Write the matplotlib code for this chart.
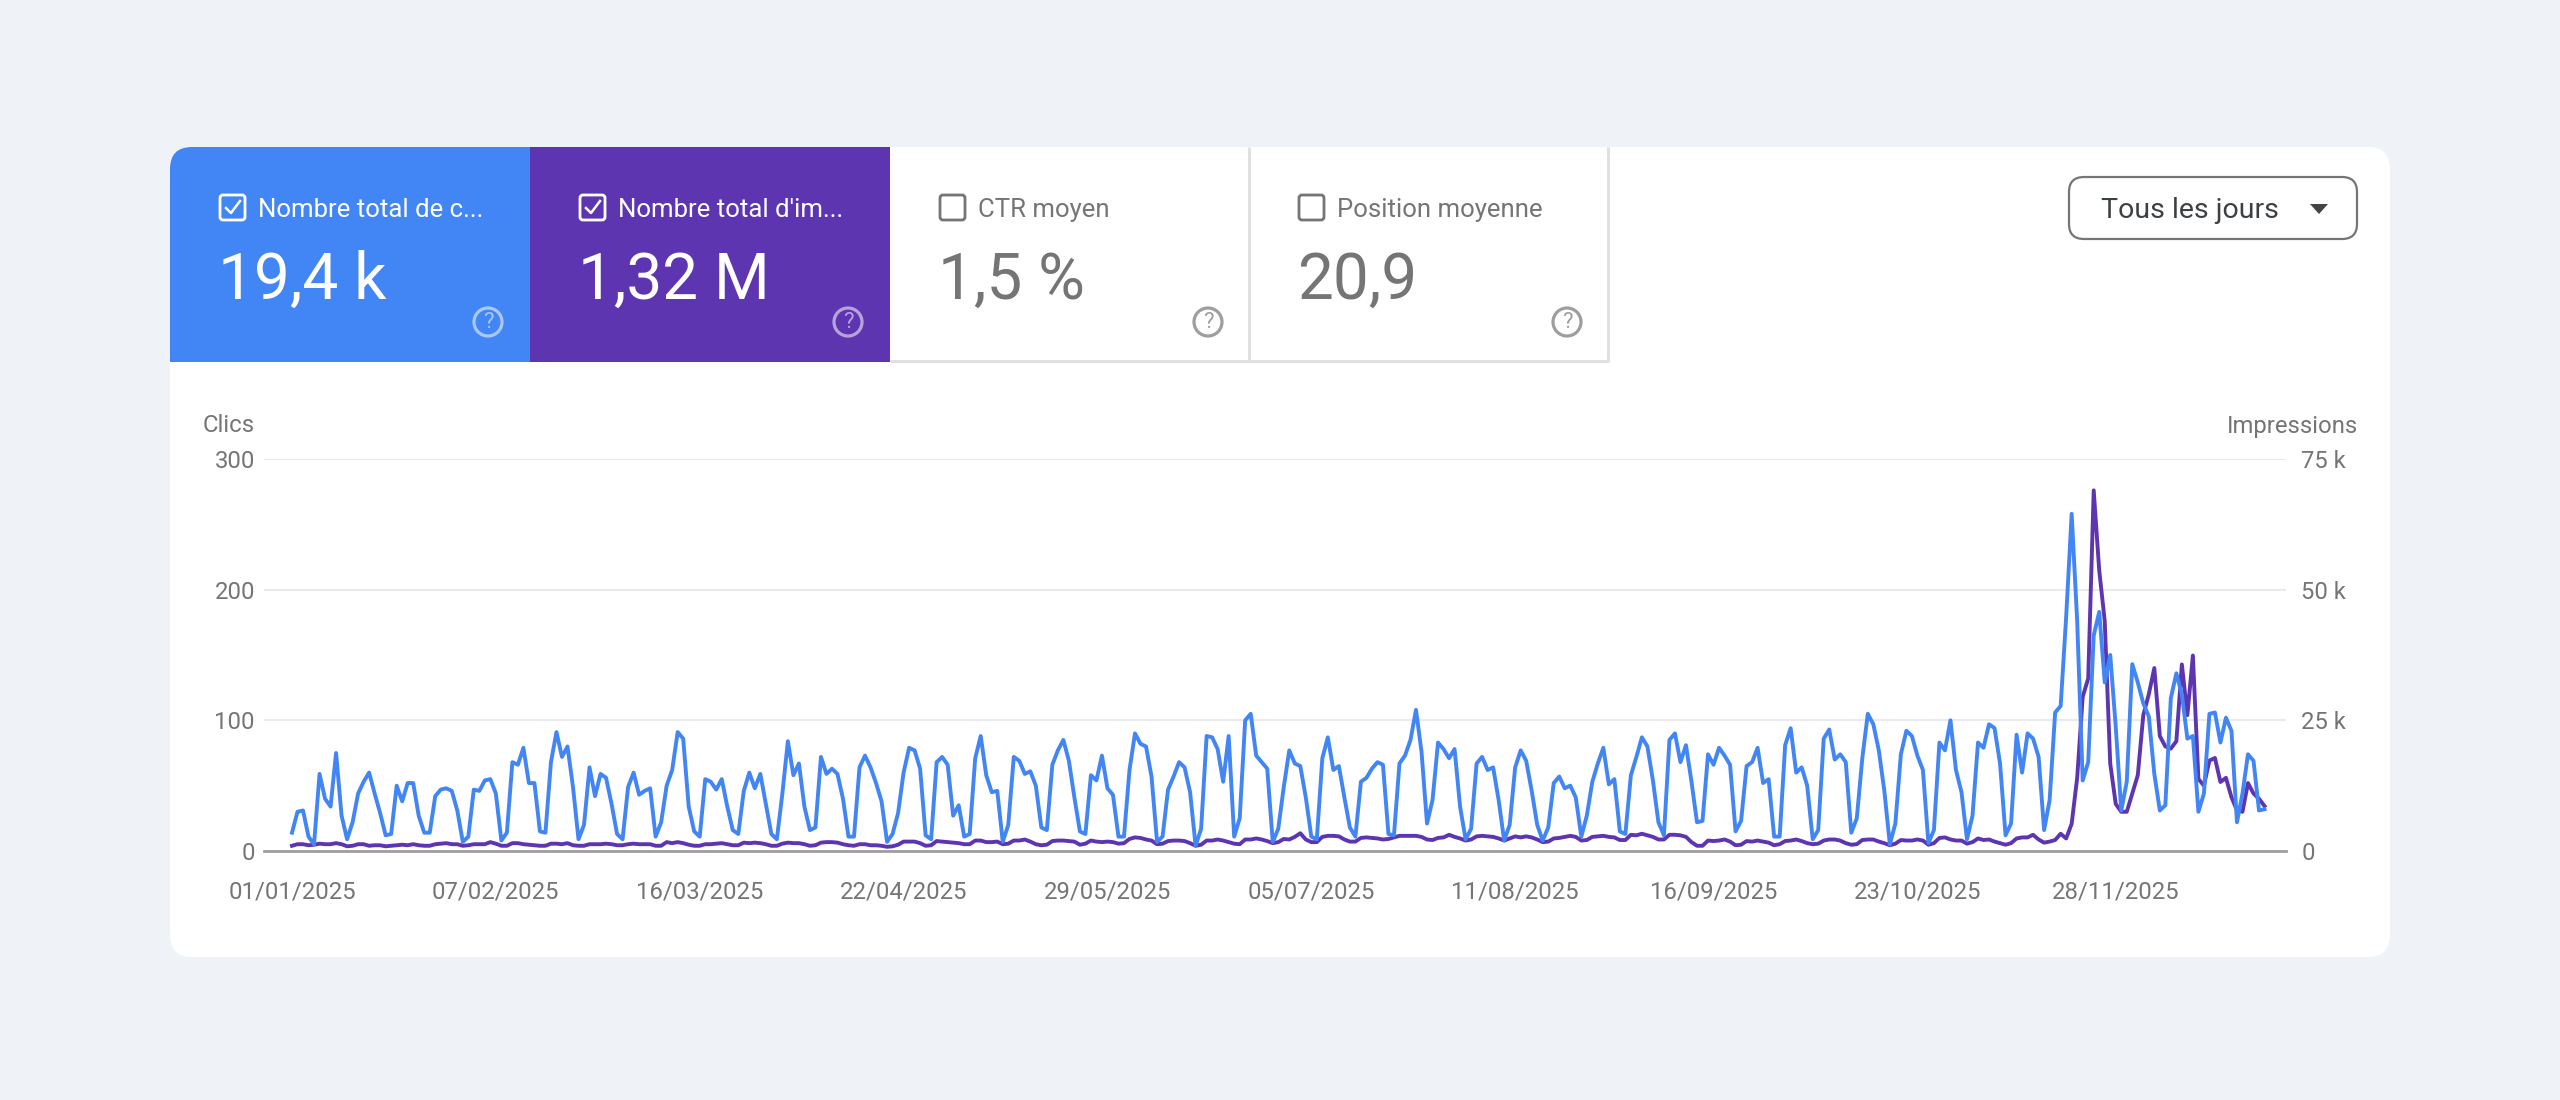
import pandas as pd
import matplotlib
matplotlib.use("Agg")
import matplotlib.pyplot as plt
from matplotlib.patches import FancyBboxPatch, Rectangle, Circle, Polygon

plt.rcParams['font.family'] = ['Roboto', 'DejaVu Sans']

# Daily clicks
clicks = [
    14, 30, 31, 11, 5, 59, 40, 34, 75, 27, 9, 22, 44, 53, 60, 44, 29, 12, 13, 50,
    38, 52, 52, 27, 14, 14, 42, 47, 48, 46, 31, 7, 11, 47, 46, 54, 55, 44, 8, 14,
    68, 66, 79, 52, 52, 15, 14, 68, 91, 72, 80, 49, 9, 20, 64, 42, 59, 56, 36, 13,
    9, 49, 60, 43, 46, 48, 11, 22, 50, 62, 91, 86, 34, 15, 11, 55, 53, 47, 55, 34,
    16, 13, 46, 60, 48, 59, 36, 13, 9, 44, 84, 58, 67, 34,
    16, 18, 72, 59, 63, 59, 40, 11, 11, 64, 73, 64, 52, 38, 7, 13, 29, 60, 79, 77,
    63, 12, 9, 68, 72, 66, 27, 35, 11, 13, 71, 88, 58, 45, 46, 7, 20, 72, 69, 59,
    61, 50, 18, 16, 66, 77, 85, 69, 41, 15, 13, 58, 54, 73, 48, 43, 11, 11, 62, 90,
    82, 80, 57, 7, 11, 47, 57, 68, 64, 45, 4, 17, 88, 87, 78, 53, 88, 11, 25, 100,
    105, 73, 68, 63, 7, 17, 49, 77, 67, 65, 41, 11, 9, 71, 87, 62, 65, 41, 18, 11,
    53, 56, 63, 68, 66, 13, 12, 67, 73, 85, 108, 76, 21, 39, 83, 78, 71, 78, 34, 9,
    17, 67, 72, 62, 64, 39, 8, 20, 64, 77, 69, 46, 20, 8, 18, 52, 57, 48, 50, 41,
    11, 27, 53, 67, 79, 51, 55, 15, 13, 58, 72, 87, 80, 54, 22, 12, 85, 90, 68, 81,
    53, 22, 23, 74, 66, 79, 73, 66, 15, 23, 65, 68, 79, 52, 55, 11, 11, 81, 94, 60,
    64, 50, 9, 16, 86, 93, 70, 74, 68, 14, 25, 71, 105, 97, 77, 46, 5, 21, 74,
    92, 88, 73, 62, 6, 16, 83, 77, 100, 62, 45, 9, 27, 83, 79, 97, 94, 67, 12, 21,
    89, 60, 90, 86, 72, 16, 39, 106, 111, 179, 258, 176,
    54, 68, 165, 183, 129, 150, 95, 31, 53, 143, 129, 113, 103, 59, 31, 35, 117, 136, 120, 86,
    88, 30, 44, 105, 106, 83, 102, 92, 22, 44, 74, 69, 31, 32,
]

# Daily impressions, in thousands
impressions = [
    1.0, 1.3, 1.3, 1.1, 1.2, 1.4, 1.3, 1.3, 1.5, 1.3, 0.9, 1.0, 1.3, 1.3, 1.0, 1.1, 1.1, 0.9, 1.0, 1.1,
    1.2, 1.1, 1.3, 1.1, 1.0, 1.0, 1.3, 1.4, 1.5, 1.3, 1.3, 1.0, 1.1, 1.3, 1.3, 1.3, 1.7, 1.4, 1.0, 1.0,
    1.5, 1.5, 1.3, 1.2, 1.1, 1.0, 1.0, 1.4, 1.4, 1.3, 1.5, 1.1, 1.0, 1.0, 1.3, 1.3, 1.3, 1.4, 1.3, 1.1,
    1.1, 1.3, 1.4, 1.3, 1.3, 1.3, 1.0, 1.0, 1.7, 1.5, 1.7, 1.5, 1.2, 1.0, 1.0, 1.3, 1.3, 1.4, 1.5, 1.3,
    1.1, 1.1, 1.6, 1.5, 1.6, 1.5, 1.3, 1.0, 1.0, 1.4, 1.6, 1.5, 1.5, 1.3,
    1.0, 1.1, 1.6, 1.7, 1.7, 1.6, 1.3, 1.1, 1.0, 1.3, 1.3, 1.1, 1.1, 1.0, 0.8, 0.9, 1.2, 1.8, 1.8, 1.8,
    1.5, 1.0, 1.1, 1.9, 1.8, 1.7, 1.6, 1.5, 1.3, 1.3, 2.0, 2.0, 1.7, 1.7, 1.8, 1.3, 1.4, 2.0, 2.0, 2.2,
    1.8, 1.3, 1.1, 1.2, 1.9, 2.0, 2.0, 1.9, 1.8, 1.2, 1.4, 2.0, 1.8, 1.7, 1.8, 1.7, 1.4, 1.5, 2.3, 2.6,
    2.5, 2.2, 2.0, 1.3, 1.4, 1.9, 2.0, 2.0, 1.9, 1.5, 1.0, 1.2, 2.0, 2.0, 2.2, 2.0, 1.7, 1.4, 1.3, 2.2,
    2.2, 2.4, 2.2, 1.9, 1.5, 1.7, 2.3, 2.2, 2.7, 3.4, 2.2, 1.7, 1.7, 2.7, 2.9, 2.9, 2.8, 2.2, 1.8, 1.8,
    2.5, 2.6, 2.5, 2.4, 2.2, 2.3, 2.6, 2.9, 2.9, 2.9, 2.9, 2.7, 2.2, 2.1, 2.5, 2.6, 3.1, 2.7, 2.4, 2.0,
    2.2, 2.8, 2.9, 2.8, 2.7, 2.4, 2.0, 2.4, 2.8, 2.6, 2.8, 2.6, 2.2, 1.7, 1.8, 2.4, 2.5, 2.7, 2.9, 2.7,
    2.0, 2.1, 2.7, 2.8, 2.9, 2.7, 2.6, 2.1, 2.1, 3.1, 3.0, 3.3, 3.0, 2.7, 2.2, 2.2, 3.1, 3.1, 3.0, 2.7,
    1.7, 1.0, 1.0, 2.0, 1.9, 2.0, 2.2, 1.8, 1.1, 1.2, 1.9, 1.8, 2.0, 1.8, 1.6, 1.1, 1.3, 1.9, 2.0, 2.2,
    1.9, 1.5, 1.3, 1.4, 2.0, 2.2, 2.2, 2.0, 1.5, 1.2, 1.3, 2.1, 2.2, 2.2, 1.8, 1.5, 1.1, 1.4, 2.1,
    2.0, 2.0, 2.2, 2.0, 1.2, 1.5, 2.5, 2.6, 2.2, 2.0, 2.0, 1.4, 1.7, 2.4, 2.1, 2.2, 1.8, 1.5, 1.2, 1.5,
    2.4, 2.6, 2.6, 3.1, 2.2, 1.6, 1.8, 2.1, 3.3, 2.4, 5.2,
    14, 29.5, 33, 69, 53.7, 44, 16.7, 9, 7.5, 7.5, 11, 14.5, 26, 30, 35, 22, 20, 19.6, 21, 35.7,
    26, 37.4, 13.8, 12.5, 17.3, 17.8, 13.2, 14, 10.3, 7.8, 7.5, 13, 11, 10, 8.6,
]

tick_dates = ['2025-01-01', '2025-02-07', '2025-03-16', '2025-04-22', '2025-05-29',
              '2025-07-05', '2025-08-11', '2025-09-16', '2025-10-23', '2025-11-28']
tick_labels = ['01/01/2025', '07/02/2025', '16/03/2025', '22/04/2025', '29/05/2025',
               '05/07/2025', '11/08/2025', '16/09/2025', '23/10/2025', '28/11/2025']
clicks_ticks = [0, 100, 200, 300]
clicks_ticklabels = ['0', '100', '200', '300']
impressions_ticks = [0, 25, 50, 75]
impressions_ticklabels = ['0', '25 k', '50 k', '75 k']

# Summary tabs
tab_titles = ['Nombre total de c...', "Nombre total d'im...", 'CTR moyen', 'Position moyenne']
tab_values = ['19,4 k', '1,32 M', '1,5 %', '20,9']
tab_checked = [True, True, False, False]

BLUE = '#4285f4'
PURPLE = '#5e35b1'
GREY = '#757575'

W, H = 2560, 1100
fig = plt.figure(figsize=(W / 100, H / 100), dpi=100, facecolor='#eff3f8')

# Overlay in pixel coordinates for the card and the tabs
ui = fig.add_axes([0, 0, 1, 1], zorder=0)
ui.set_xlim(0, W)
ui.set_ylim(H, 0)
ui.axis('off')

card = FancyBboxPatch((170, 147), 2220, 810, boxstyle='round,pad=0,rounding_size=22',
                      facecolor='white', edgecolor='none')
ui.add_patch(card)

tab_edges = [170, 530, 890, 1249, 1608]
tab_fill = [BLUE, PURPLE, 'white', 'white']
for i in range(4):
    x0, x1 = tab_edges[i], tab_edges[i + 1]
    rect = Rectangle((x0, 147), x1 - x0, 215, facecolor=tab_fill[i], edgecolor='none')
    ui.add_patch(rect)
    rect.set_clip_path(card)
    fg = 'white' if tab_checked[i] else GREY
    if not tab_checked[i]:
        ui.plot([x0, x1], [361, 361], color='#e0e0e0', lw=2.2, solid_capstyle='butt')
        ui.plot([x1, x1], [147, 362], color='#e0e0e0', lw=2.2, solid_capstyle='butt')

    # Checkbox
    bx = x0 + 50
    ui.add_patch(FancyBboxPatch((bx, 195), 25, 25, boxstyle='round,pad=0,rounding_size=3',
                                facecolor='none', edgecolor=fg, lw=2))
    if tab_checked[i]:
        ui.plot([bx + 6, bx + 11, bx + 20], [208, 213, 201], color=fg, lw=1.8)

    ui.text(x0 + 88, 210, tab_titles[i], color=fg, fontsize=18.5, va='center', ha='left')
    ui.text(x0 + 48, 281, tab_values[i], color=fg, fontsize=46, va='center', ha='left')

    # Help icon
    hx = x1 - 42 if tab_checked[i] else x1 - 41
    hy = 322
    icon = 'white' if tab_checked[i] else '#9e9e9e'
    alpha = 0.55 if tab_checked[i] else 1
    ui.add_patch(Circle((hx, hy), 14, facecolor='none', edgecolor=icon, lw=2.3, alpha=alpha))
    ui.text(hx, hy + 1, '?', color=icon, fontsize=16, ha='center', va='center', alpha=alpha)

# Dropdown
ui.add_patch(FancyBboxPatch((2069, 177), 288, 62, boxstyle='round,pad=0,rounding_size=15',
                            facecolor='white', edgecolor='#757575', lw=1.6))
ui.text(2101, 210, 'Tous les jours', color='#3c4043', fontsize=20.5, va='center', ha='left')
ui.add_patch(Polygon([(2310, 204), (2328, 204), (2319, 214)], facecolor='#444444', edgecolor='none'))

# Chart axes
left, right, top, bottom = 264, 2286, 459, 851
ax = fig.add_axes([left / W, 1 - bottom / H, (right - left) / W, (bottom - top) / H], zorder=1)
ax.patch.set_visible(False)
ax2 = ax.twinx()
ax2.patch.set_visible(False)

days = pd.date_range('2025-01-01', periods=len(clicks))
ax2.plot(days, impressions, color=PURPLE, lw=2.8, zorder=3, solid_joinstyle='round')
ax.plot(days, clicks, color=BLUE, lw=2.8, zorder=3, solid_joinstyle='round')
ax.set_zorder(2)
ax2.set_zorder(1)

ax.set_xlim(days[0] - pd.Timedelta(days=5.08), days[0] + pd.Timedelta(days=361.9))
ax.set_ylim(0, 300)
ax2.set_ylim(0, 75)

ax.set_xticks(pd.to_datetime(tick_dates))
ax.set_xticklabels(tick_labels)
ax.set_yticks(clicks_ticks)
ax.set_yticklabels(clicks_ticklabels)
ax2.set_yticks(impressions_ticks)
ax2.set_yticklabels(impressions_ticklabels)

ax.tick_params(axis='x', length=0, pad=21.5, labelsize=17.2, labelcolor=GREY)
ax.tick_params(axis='y', length=0, pad=6.5, labelsize=17.2, labelcolor=GREY)
ax2.tick_params(axis='y', length=0, pad=11, labelsize=17.2, labelcolor=GREY)
for lab in ax.get_yticklabels() + ax2.get_yticklabels():
    lab.set_verticalalignment('center_baseline')

# Grid on the lower axes so it stays under both lines
ax2.grid(axis='y', color='#e8eaed', lw=1.5, zorder=0)
ax2.set_axisbelow(True)
for a in (ax, ax2):
    for side in ('top', 'left', 'right'):
        a.spines[side].set_visible(False)
ax.spines['bottom'].set_color('#9e9e9e')
ax.spines['bottom'].set_linewidth(2)
ax2.spines['bottom'].set_visible(False)

ui.text(255, 426, 'Clics', color=GREY, fontsize=17.2, ha='right', va='center')
ui.text(2358, 426, 'Impressions', color=GREY, fontsize=17.2, ha='right', va='center')

plt.savefig('out.png', dpi=100, facecolor=fig.get_facecolor())
